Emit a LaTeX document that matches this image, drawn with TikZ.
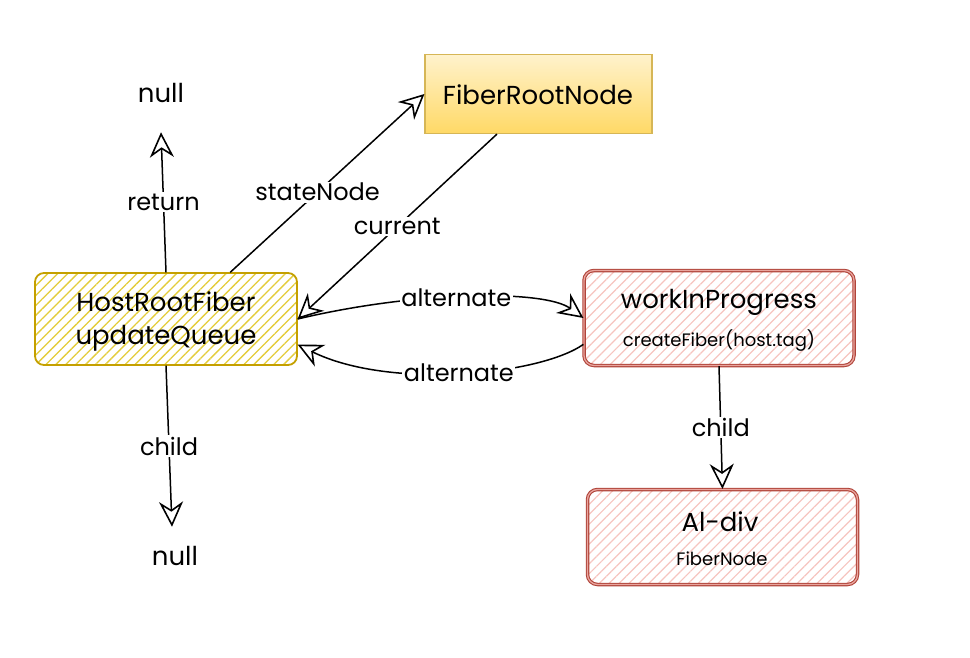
\documentclass[tikz,border=0pt]{standalone}
\usepackage{fontspec}
\setmainfont{Poppins}
\usetikzlibrary{arrows.meta,patterns.meta,calc}
\definecolor{hostline}{HTML}{C4A000}
\definecolor{hosthatch}{HTML}{E3CC3A}
\definecolor{redline}{HTML}{B0443A}
\definecolor{redhatch}{HTML}{F6C4BF}
\definecolor{redgap}{HTML}{E9A59E}
\definecolor{goldtop}{HTML}{FFF2CC}
\definecolor{goldbot}{HTML}{FFD966}
\definecolor{goldline}{HTML}{D6B656}
\tikzset{
  bigtxt/.style={font=\fontsize{26}{30}\selectfont},
  smalltxt/.style={font=\fontsize{18}{21}\selectfont},
  lbl/.style={font=\fontsize{24}{28}\selectfont, fill=white, inner sep=1.5pt},
  hostbox/.style={draw=hostline, line width=1.8pt, rounded corners=9pt,
    pattern={Lines[angle=45,distance=7pt,line width=1.3pt]}, pattern color=hosthatch,
    minimum width=262pt, minimum height=92pt},
  redbox/.style={draw=redline, line width=1.1pt, double=redgap, double distance=1.3pt,
    rounded corners=10pt,
    pattern={Lines[angle=45,distance=7pt,line width=1.2pt]}, pattern color=redhatch,
    minimum width=270pt, minimum height=95pt},
  goldbox/.style={draw=goldline, line width=1.2pt, top color=goldtop, bottom color=goldbot,
    minimum width=227pt, minimum height=79pt},
  arr/.style={line width=1.5pt, -{Stealth[open,length=25pt,width=24pt,inset=8pt,line width=1.6pt]}},
}
\begin{document}
\begin{tikzpicture}[x=1pt,y=-1pt]
\useasboundingbox (0,0) rectangle (970,658);
% boxes
\node[hostbox] (host) at (166,319) {};
\node[bigtxt] (hostA) at (166,302) {HostRootFiber};
\node[bigtxt] (hostB) at (166,338) {updateQueue};
\node[goldbox] (fiber) at (538.5,94) {};
\node[bigtxt] (fiberT) at (538,95) {FiberRootNode};
\node[redbox] (wip) at (719,318) {};
\node[bigtxt] (wipA) at (719,302) {workInProgress};
\node[smalltxt] (wipB) at (719,341) {createFiber(host.tag)};
\node[redbox] (a1) at (722.5,537) {};
\node[bigtxt] (a1A) at (720,522) {Al-div};
\node[smalltxt] (a1B) at (722,559) {FiberNode};
\node[bigtxt] (nulltop) at (161,93) {null};
\node[bigtxt] (nullbot) at (175,556) {null};
% connectors
\draw[arr] (host.north) -- ($(nulltop.south)+(0,26)$) node[lbl, midway] {return};
\draw[arr] (host.south) -- ($(nullbot.north)+(-3,-16)$) node[lbl, midway] {child};
\draw[arr] (host.36) -- (fiber.west) node[lbl, pos=0.45] {stateNode};
\draw[arr] (fiber.-136) -- (host.east) node[lbl, midway] {current};
\draw[arr] (host.east) .. controls (420,290) and (545,290) .. (wip.west) node[lbl, pos=0.45] {alternate};
\draw[arr] (wip.191.7) .. controls (540,375) and (390,390) .. (host.-11) node[lbl, pos=0.5] {alternate};
\draw[arr] (wip.south) -- (a1.north) node[lbl, midway] {child};
\end{tikzpicture}
\end{document}
